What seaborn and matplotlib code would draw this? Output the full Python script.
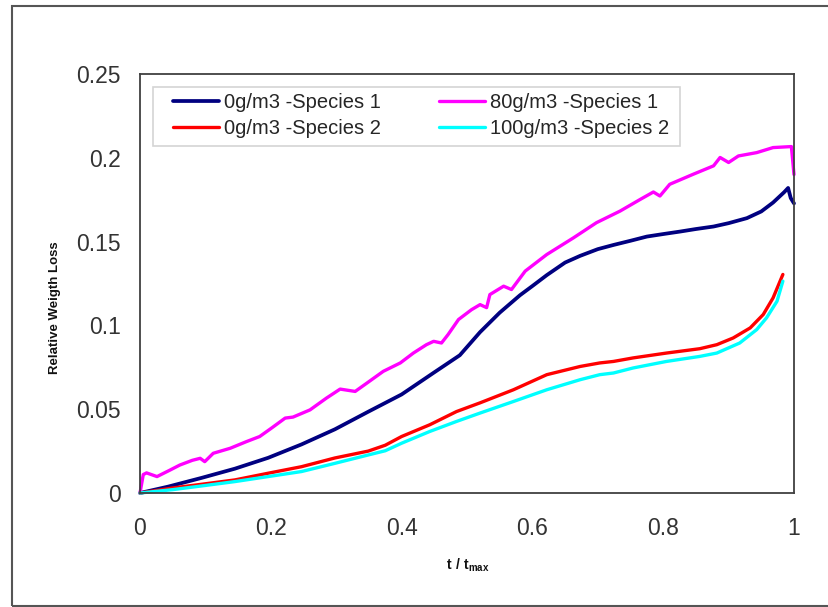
import matplotlib
matplotlib.use("Agg")
import matplotlib.pyplot as plt
from matplotlib.patches import Rectangle
import numpy as np
import pandas as pd
import seaborn as sns

# Relative weight loss vs normalised time t / t_max
navy_t = [0, 0.043, 0.094, 0.145, 0.196, 0.247, 0.298, 0.349, 0.40, 0.45, 0.489, 0.52, 0.55,
          0.581, 0.60, 0.622, 0.65, 0.673, 0.70, 0.724, 0.75, 0.775, 0.80, 0.826, 0.85,
          0.877, 0.90, 0.928, 0.95, 0.968, 0.985, 0.991, 0.995, 1.0]
navy_v = [0, 0.0038, 0.009, 0.0145, 0.021, 0.029, 0.038, 0.0485, 0.0588, 0.072, 0.0822,
          0.096, 0.1076, 0.118, 0.1235, 0.130, 0.1375, 0.1415, 0.1455, 0.148, 0.1505, 0.153,
          0.1545, 0.156, 0.1575, 0.159, 0.161, 0.164, 0.168, 0.1733, 0.1795, 0.182, 0.176,
          0.1728]

mag_t = [0, 0.005, 0.01, 0.026, 0.045, 0.061, 0.08, 0.092, 0.099, 0.112, 0.138, 0.163,
         0.183, 0.201, 0.222, 0.234, 0.26, 0.285, 0.306, 0.329, 0.347, 0.372, 0.398, 0.418,
         0.438, 0.449, 0.461, 0.471, 0.487, 0.507, 0.52, 0.53, 0.535, 0.556, 0.568, 0.589,
         0.622, 0.663, 0.698, 0.734, 0.765, 0.785, 0.795, 0.81, 0.846, 0.877, 0.887, 0.9,
         0.915, 0.943, 0.968, 0.996, 1.0]
mag_v = [0, 0.011, 0.012, 0.0098, 0.0135, 0.0167, 0.0195, 0.0207, 0.0187, 0.0237, 0.0267,
         0.0307, 0.0337, 0.0387, 0.0447, 0.0453, 0.0496, 0.0566, 0.062, 0.0606, 0.0656,
         0.0726, 0.0776, 0.0835, 0.0885, 0.0905, 0.0895, 0.0945, 0.1035, 0.1094, 0.1124,
         0.1106, 0.1184, 0.1234, 0.1214, 0.1324, 0.1423, 0.1523, 0.1613, 0.1682, 0.1752,
         0.1796, 0.1772, 0.1842, 0.1902, 0.1952, 0.2002, 0.1972, 0.2011, 0.2031, 0.2061,
         0.2067, 0.190]

red_t = [0, 0.05, 0.10, 0.145, 0.196, 0.247, 0.298, 0.349, 0.375, 0.40, 0.443, 0.484, 0.52,
         0.571, 0.622, 0.673, 0.703, 0.724, 0.754, 0.805, 0.856, 0.882, 0.907, 0.933, 0.953,
         0.968, 0.983]
red_v = [0, 0.003, 0.0055, 0.0078, 0.0118, 0.0157, 0.0209, 0.025, 0.0285, 0.0337, 0.0407,
         0.0486, 0.0538, 0.0616, 0.0706, 0.0755, 0.0776, 0.0785, 0.0806, 0.0835, 0.0861,
         0.0885, 0.0925, 0.0985, 0.1065, 0.1164, 0.1304]

cyan_t = [0, 0.05, 0.10, 0.145, 0.196, 0.247, 0.298, 0.349, 0.375, 0.40, 0.443, 0.484, 0.52,
          0.571, 0.622, 0.673, 0.703, 0.724, 0.754, 0.805, 0.856, 0.882, 0.917, 0.943, 0.958,
          0.974, 0.983]
cyan_v = [0, 0.002, 0.0045, 0.0068, 0.0098, 0.0128, 0.0177, 0.0227, 0.0252, 0.0297, 0.0367,
          0.0427, 0.0477, 0.0546, 0.0616, 0.0676, 0.0706, 0.0716, 0.0746, 0.0785, 0.0815,
          0.0835, 0.0895, 0.0975, 0.1045, 0.1144, 0.1264]

labels = ["0g/m3 -Species 1", "0g/m3 -Species 2", "80g/m3 -Species 1", "100g/m3 -Species 2"]
colors = ["#000080", "#FF0000", "#FF00FF", "#00FFFF"]

x_ticks = [0, 0.2, 0.4, 0.6, 0.8, 1.0]
x_tick_labels = ["0", "0.2", "0.4", "0.6", "0.8", "1"]
y_ticks = [0, 0.05, 0.10, 0.15, 0.20, 0.25]
y_tick_labels = ["0", "0.05", "0.1", "0.15", "0.2", "0.25"]

sns.set_style("white")
plt.rcParams["font.family"] = ["Liberation Sans", "DejaVu Sans"]
plt.rcParams["mathtext.fontset"] = "custom"
plt.rcParams["mathtext.rm"] = "Liberation Sans"
plt.rcParams["mathtext.bf"] = "Liberation Sans:bold"

W, H = 829, 607
fig = plt.figure(figsize=(W / 100, H / 100), dpi=100)
fig.patch.set_facecolor("white")

# outer chart frame
fig.add_artist(Rectangle((12 / W, 1 - 606 / H), 1.0, (606 - 6) / H,
                         transform=fig.transFigure, fill=False,
                         edgecolor="#555555", linewidth=1.5))

ax = fig.add_axes([140 / W, 1 - 493 / H, (794 - 140) / W, (493 - 74) / H])

series = [(navy_t, navy_v), (red_t, red_v), (mag_t, mag_v), (cyan_t, cyan_v)]
widths = [2.7, 2.4, 2.4, 2.4]
draw_order = [0, 2, 1, 3]
handles = {}
for i in draw_order:
    t, v = series[i]
    df = pd.DataFrame({"t": t, "v": v})
    sns.lineplot(data=df, x="t", y="v", ax=ax, color=colors[i], linewidth=widths[i],
                 estimator=None, sort=False, label=labels[i])
    handles[i] = ax.get_lines()[-1]
    handles[i].set_clip_on(False)
    handles[i].set_solid_capstyle("round")
    handles[i].set_solid_joinstyle("round")

ax.set_xlim(0, 1)
ax.set_ylim(0, 0.25)
ax.set_xticks(x_ticks)
ax.set_xticklabels(x_tick_labels)
ax.set_yticks(y_ticks)
ax.set_yticklabels(y_tick_labels)
ax.set_xlabel("")
ax.set_ylabel("")

for s in ax.spines.values():
    s.set_visible(True)
    s.set_color("#404040")
    s.set_linewidth(1.3)
ax.tick_params(axis="both", direction="out", length=5.5, width=1.3, color="#404040",
               labelsize=16.5, labelcolor="#333333")
ax.tick_params(axis="y", pad=8.5)
ax.tick_params(axis="x", pad=12)

# legend with its own light frame
ax.legend(handles=[handles[i] for i in range(4)], labels=labels, ncol=2,
          loc="upper left", bbox_to_anchor=(173 / W, 1 - 93 / H),
          bbox_transform=fig.transFigure, frameon=False, borderpad=0,
          borderaxespad=0, fontsize=14.5, handlelength=2.3, handletextpad=0.25,
          columnspacing=2.85, labelspacing=0.36)
fig.add_artist(Rectangle((153 / W, 1 - 146 / H), (680 - 153) / W, (146 - 87) / H,
                         transform=fig.transFigure, fill=False,
                         edgecolor="#d4d4d4", linewidth=1.2))

fig.text(55 / W, 1 - 308 / H, "Relative Weigth Loss", rotation=90, ha="center",
         va="center", fontsize=9.5, fontweight="bold", color="#111111")
fig.text(468 / W, 1 - 565 / H, r"$\mathbf{t\ /\ t_{max}}$", ha="center", va="center",
         fontsize=10, color="#111111")

fig.savefig("out.png", dpi=100, facecolor="white")
